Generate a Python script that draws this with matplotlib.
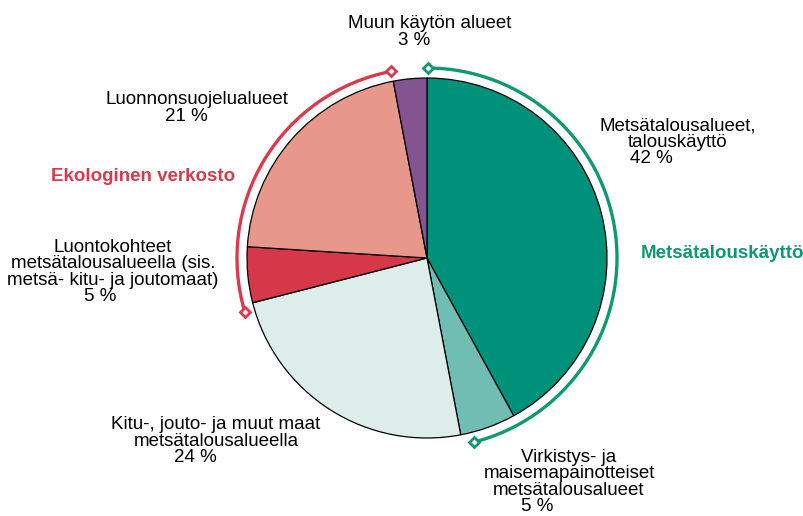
import numpy as np
import matplotlib
matplotlib.use('Agg')
import matplotlib.pyplot as plt
from matplotlib.patches import Arc

plt.rcParams['font.family'] = ['Liberation Sans', 'DejaVu Sans']

# data: clockwise from the top
labels = ['Metsätalousalueet,\ntalouskäyttö',
          'Virkistys- ja\nmaisemapainotteiset\nmetsätalousalueet',
          'Kitu-, jouto- ja muut maat\nmetsätalousalueella',
          'Luontokohteet\nmetsätalousalueella (sis.\nmetsä- kitu- ja joutomaat)',
          'Luonnonsuojelualueet',
          'Muun käytön alueet']
values = [42, 5, 24, 5, 21, 3]
colors = ['#00917B', '#70BDB3', '#DDEDE9', '#D6384A', '#E8978B', '#845490']

green_group = [0, 1]   # Metsätalouskäyttö
red_group = [3, 4]     # Ekologinen verkosto
green = '#0E9970'
red = '#D93A4D'

W, H = 804, 516
fig = plt.figure(figsize=(W / 100, H / 100), dpi=100)
ax = fig.add_axes([0, 0, 1, 1])

cx, cy, r = 427, H - 258, 180
ax.pie(values, colors=colors, startangle=90, counterclock=False, center=(cx, cy), radius=r,
       wedgeprops=dict(edgecolor='black', linewidth=0.9), frame=True)
ax.set_xlim(0, W)
ax.set_ylim(0, H)
ax.set_aspect('equal')
ax.axis('off')

# group arcs, angles from cumulative shares
cum = np.concatenate([[0], np.cumsum(values)]) / 100 * 360
ang = 90 - cum
ra = 190


def group_arc(idx, color, gap_start, gap_end, clockwise):
    a0 = ang[idx[0]]
    a1 = ang[idx[-1] + 1]
    if clockwise:
        t_start, t_end = a0 - gap_start, a1 + gap_end
        ax.add_patch(Arc((cx, cy), 2 * ra, 2 * ra, theta1=t_end, theta2=t_start, color=color, lw=2.4))
    else:
        t_start, t_end = a1 + gap_start, a0 - gap_end
        ax.add_patch(Arc((cx, cy), 2 * ra, 2 * ra, theta1=t_start, theta2=t_end, color=color, lw=2.4))
    for t in (t_start, t_end):
        ax.plot(cx + ra * np.cos(np.radians(t)), cy + ra * np.sin(np.radians(t)), marker='D',
                ms=5.5, mfc='white', mec=color, mew=2.0, zorder=5)


group_arc(green_group, green, 0.3, 3.5, True)
group_arc(red_group, red, 0.2, -2.0, False)


def pct(v, pad):
    # percentage line, shifted left as in the original layout
    return f'\n{v} %' + ' ' * pad


fs = 13.5
ls = 0.95
ax.text(430, H - 32, labels[5] + pct(values[5], 6), ha='center', va='center', fontsize=fs, linespacing=1.05)
ax.text(197, H - 108, labels[4] + pct(values[4], 4), ha='center', va='center', fontsize=fs, linespacing=ls)
ax.text(143, H - 176, 'Ekologinen verkosto', ha='center', va='center', fontsize=fs,
        fontweight='bold', color=red)
ax.text(113, H - 272, labels[3] + pct(values[3], 5), ha='center', va='center', fontsize=fs, linespacing=ls)
ax.text(216, H - 441, labels[2] + pct(values[2], 8), ha='center', va='center', fontsize=fs, linespacing=ls)
ax.text(678, H - 142, labels[0] + pct(values[0], 10), ha='center', va='center', fontsize=fs, linespacing=ls)
ax.text(641, H - 253, 'Metsätalouskäyttö', ha='left', va='center', fontsize=fs,
        fontweight='bold', color=green)
ax.text(569, H - 482, labels[1] + pct(values[1], 12), ha='center', va='center', fontsize=fs, linespacing=ls)

fig.savefig('out.png', dpi=100)
